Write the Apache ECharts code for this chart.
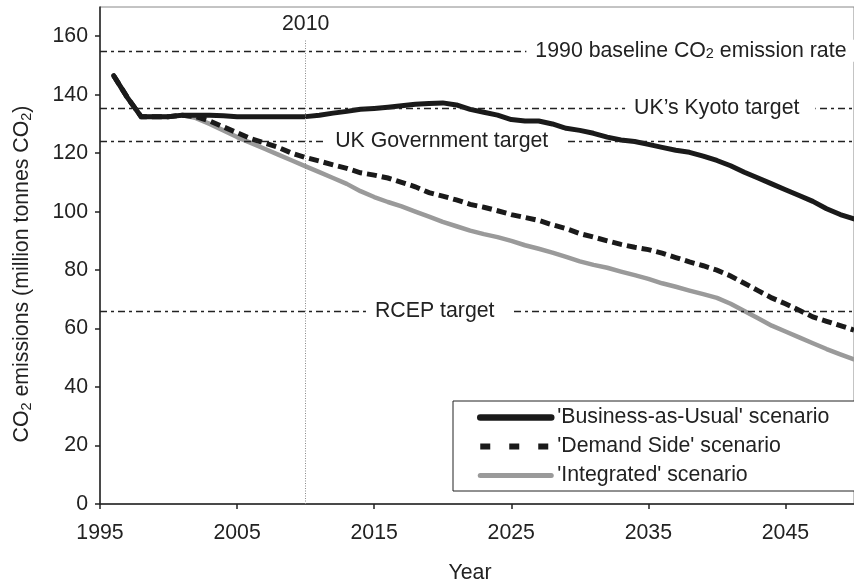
<!DOCTYPE html>
<html>
<head>
<meta charset="utf-8">
<script src="https://cdn.jsdelivr.net/npm/echarts@6/dist/echarts.min.js"></script>
<style>
  html, body { margin: 0; padding: 0; background: #fff; }
  #chart { width: 854px; height: 586px; }
</style>
</head>
<body>
<div id="chart"></div>
<script>
// UK CO2 emission scenarios, million tonnes CO2 per year
const years = [
  1996, 1997, 1998, 1999, 2000, 2001, 2002, 2003, 2004, 2005,
  2006, 2007, 2008, 2009, 2010, 2011, 2012, 2013, 2014, 2015,
  2016, 2017, 2018, 2019, 2020, 2021, 2022, 2023, 2024, 2025,
  2026, 2027, 2028, 2029, 2030, 2031, 2032, 2033, 2034, 2035,
  2036, 2037, 2038, 2039, 2040, 2041, 2042, 2043, 2044, 2045,
  2046, 2047, 2048, 2049, 2050
];
const businessAsUsual = [
  146.5, 139, 132.5, 132.5, 132.5, 133, 133, 133, 132.8, 132.5,
  132.5, 132.5, 132.5, 132.5, 132.5, 133, 133.7, 134.3, 135, 135.3,
  135.7, 136.2, 136.7, 137, 137.2, 136.5, 135, 134, 133, 131.5,
  131, 131, 130, 128.5, 127.8, 126.8, 125.5, 124.5, 124, 123,
  122, 121, 120.3, 119, 117.5, 115.7, 113.5, 111.5, 109.5, 107.5,
  105.5, 103.5, 101, 99, 97.5
];
const demandSide = [
  146.5, 139, 132.5, 132.5, 132.5, 133, 132.5, 131, 129, 127,
  125, 123.5, 122, 120, 118.5, 117.3, 116, 114.8, 113.3, 112.5,
  111.5, 110, 108.5, 106.5, 105.3, 104, 102.5, 101.5, 100.3, 99,
  98, 97, 95.5, 94.2, 92.5, 91.3, 90, 88.8, 87.8, 87,
  85.8, 84.3, 82.8, 81.5, 80, 78, 75.5, 73, 70.5, 68.5,
  66.3, 64, 62.5, 61, 59.5
];
const integrated = [
  146.5, 139, 132.5, 132.5, 132.5, 133, 132, 130, 127.8, 125.5,
  123.5, 121.5, 119.5, 117.5, 115.5, 113.5, 111.5, 109.5, 107, 105,
  103.3, 101.8, 100, 98.3, 96.5, 95, 93.5, 92.3, 91.3, 90,
  88.5, 87.3, 86, 84.5, 83, 81.8, 80.8, 79.5, 78.3, 77,
  75.5, 74.3, 73, 71.8, 70.5, 68.5, 66, 63.5, 61, 59,
  57, 55, 53, 51.2, 49.5
];
const seriesNames = [
  "'Business-as-Usual' scenario",
  "'Demand Side' scenario",
  "'Integrated' scenario"
];

// Reference levels
const targetNames = [
  '1990 baseline CO{sub|2} emission rate',
  'UK\u2019s Kyoto target',
  'UK Government target',
  'RCEP target'
];
const targetValues = [155, 135.5, 124, 66];
const milestoneYear = 2010;

// Axis ticks
const xTicks = [1995, 2005, 2015, 2025, 2035, 2045];
const yTicks = [0, 20, 40, 60, 80, 100, 120, 140, 160];

// ---- layout & styling ----
const FONT = '"Liberation Sans", Arial, Helvetica, sans-serif';
const INK = '#222';
const FS = 21.3;
const subRich = {
  sub: { fontSize: 14.5, lineHeight: 10, verticalAlign: 'bottom', fontFamily: FONT, fill: INK, color: INK }
};
// year at which each target label box begins
const targetLabelStart = [2026.1, 2033.3, 2011.5, 2014.4];
// height (in axis units) of the milestone caption above the plot floor
const milestoneCaptionLevel = 164;
const milestoneLineTop = 159;

const toPairs = vals => years.map((y, i) => [y, vals[i]]);

const chart = echarts.init(document.getElementById('chart'), null, { renderer: 'canvas' });

const option = {
  animation: false,
  backgroundColor: '#fff',
  textStyle: { fontFamily: FONT, color: INK },
  grid: {
    left: 100, right: -10, top: 7, bottom: 82,
    show: true, borderColor: '#888', borderWidth: 1, backgroundColor: 'transparent'
  },
  xAxis: {
    type: 'value', min: 1995, max: 2050,
    axisLine: { lineStyle: { color: INK, width: 1.5 } },
    axisTick: { show: true, inside: false, length: 5, customValues: xTicks, lineStyle: { color: INK, width: 1.5 } },
    axisLabel: { customValues: xTicks, formatter: v => String(v), fontSize: FS, color: INK, fontFamily: FONT, margin: 19 },
    splitLine: { show: false }
  },
  yAxis: {
    type: 'value', min: 0, max: 170,
    axisLine: { show: true, lineStyle: { color: INK, width: 1.5 } },
    axisTick: { show: true, inside: false, length: 5, customValues: yTicks, lineStyle: { color: INK, width: 1.5 } },
    axisLabel: { customValues: yTicks, formatter: v => String(v), fontSize: FS, color: INK, fontFamily: FONT, margin: 12 },
    splitLine: { show: false }
  },
  legend: {
    orient: 'vertical',
    left: 453, top: 401,
    itemWidth: 71, itemHeight: 20, itemGap: 8,
    padding: [6, 40, 5, 24],
    borderColor: INK, borderWidth: 1, borderRadius: 0,
    backgroundColor: '#fff',
    itemStyle: { opacity: 0 },
    textStyle: { fontSize: FS, color: INK, fontFamily: FONT, lineHeight: 20, padding: [0, 0, 0, 1] },
    data: [
      { name: seriesNames[0], lineStyle: { width: 6.5, cap: 'round' } },
      { name: seriesNames[1], lineStyle: { width: 6, type: [10, 19] } },
      { name: seriesNames[2], lineStyle: { width: 5 } }
    ]
  },
  series: [
    // target levels and the milestone year marker
    {
      type: 'line', name: 'refs', data: [], z: 1, silent: true,
      markLine: {
        silent: true, symbol: ['none', 'none'], animation: false,
        label: { show: false },
        lineStyle: { color: INK, width: 1.3, type: [7, 4, 3, 4] },
        data: targetValues.map(v => ({ yAxis: v })).concat([[
          { coord: [milestoneYear, 0], lineStyle: { color: '#8a8a8a', width: 1, type: [1, 1.5] } },
          { coord: [milestoneYear, milestoneLineTop] }
        ]])
      }
    },
    {
      type: 'line', name: seriesNames[0], data: toPairs(businessAsUsual), z: 4,
      symbol: 'none', smooth: false,
      lineStyle: { color: '#1a1a1a', width: 5, join: 'round', cap: 'round' },
      itemStyle: { color: '#1a1a1a' }
    },
    {
      type: 'line', name: seriesNames[1], data: toPairs(demandSide), z: 3,
      symbol: 'none', smooth: false,
      lineStyle: { color: '#1a1a1a', width: 5, type: [10, 5], join: 'miter' },
      itemStyle: { color: '#1a1a1a' }
    },
    {
      type: 'line', name: seriesNames[2], data: toPairs(integrated), z: 2,
      symbol: 'none', smooth: false,
      lineStyle: { color: '#9a9a9a', width: 4.5, join: 'round', cap: 'round' },
      itemStyle: { color: '#9a9a9a' }
    }
  ]
};

chart.setOption(option);

// Captions placed through the chart's own coordinate system
const toPx = pt => chart.convertToPixel({ gridIndex: 0 }, pt);
const captions = targetValues.map((v, i) => {
  const p = toPx([targetLabelStart[i], v]);
  return {
    type: 'text', x: p[0], y: p[1], z: 50,
    style: {
      text: targetNames[i], rich: subRich,
      fontSize: FS, lineHeight: 22, fontFamily: FONT, fill: INK,
      align: 'left', verticalAlign: 'middle',
      backgroundColor: '#fff', padding: [0, 16, 0, 9]
    }
  };
});
const mp = toPx([milestoneYear, milestoneCaptionLevel]);
captions.push({
  type: 'text', x: mp[0], y: mp[1], z: 50,
  style: { text: String(milestoneYear), fontSize: FS, fontFamily: FONT, fill: INK, align: 'center', verticalAlign: 'middle' }
});
// axis titles
captions.push({
  type: 'text', x: 22, y: 274, rotation: Math.PI / 2, z: 50,
  style: {
    text: 'CO{sub|2} emissions (million tonnes CO{sub|2})',
    rich: subRich, fontSize: FS, lineHeight: 24, fontFamily: FONT, fill: INK,
    align: 'center', verticalAlign: 'middle'
  }
});
captions.push({
  type: 'text', x: 470, y: 573, z: 50,
  style: { text: 'Year', fontSize: FS, fontFamily: FONT, fill: INK, align: 'center', verticalAlign: 'middle' }
});
chart.setOption({ graphic: captions });
</script>
</body>
</html>
